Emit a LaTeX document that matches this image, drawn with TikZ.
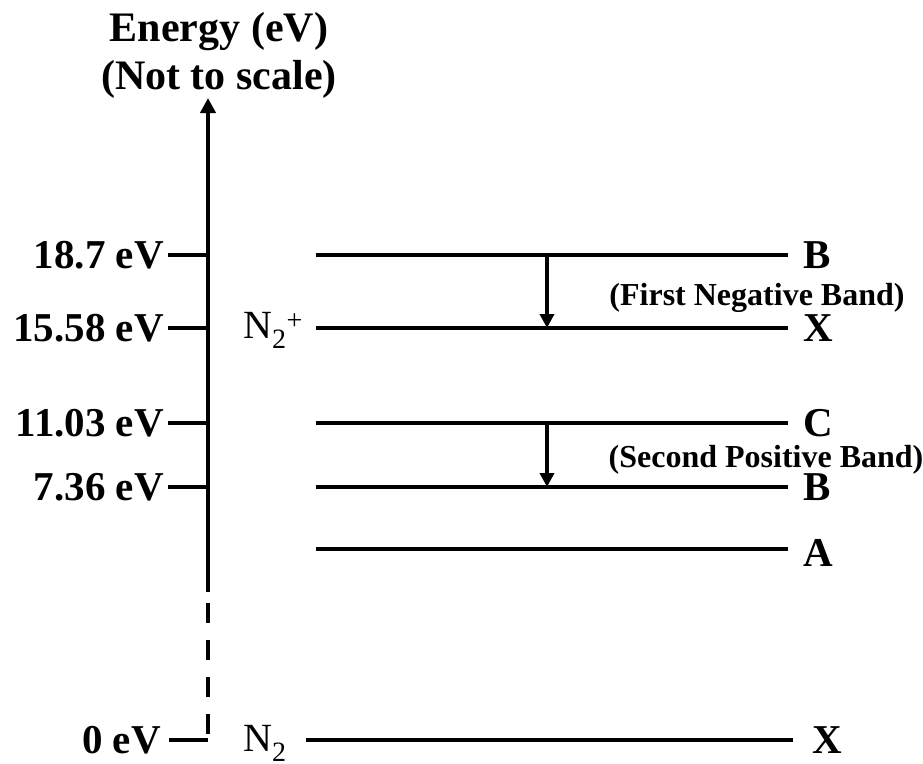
\documentclass[tikz,border=0pt]{standalone}
\usepackage{fontspec}
\setmainfont{Liberation Serif}
\usepackage{tikz}
\usetikzlibrary{arrows.meta,positioning,calc}

\begin{document}
\begin{tikzpicture}[
  x=1pt,y=-1pt,
  level/.style={line width=4.8pt},
  axisline/.style={line width=4.4pt},
  tick/.style={line width=4.8pt},
  elabel/.style={font=\fontsize{41}{46}\selectfont\bfseries,anchor=east,inner sep=0pt},
  slabel/.style={font=\fontsize{41}{46}\selectfont\bfseries,anchor=west,inner sep=0pt},
  band/.style={font=\fontsize{32}{36}\selectfont\bfseries,inner sep=0pt},
  mol/.style={font=\fontsize{40}{46}\selectfont,anchor=west,inner sep=0pt},
  trans/.style={line width=4.2pt,-{Triangle[length=14pt,width=14pt]}}
]
\useasboundingbox (0,0) rectangle (923,763);

% energy axis
\node[font=\fontsize{42}{48}\selectfont\bfseries,align=center,inner sep=0pt]
  (title) at (219,55) {Energy (eV)\\(Not to scale)};
\coordinate (axtop) at (208,98);
\coordinate (axbreak) at (208,592);
\coordinate (axzero) at (208,740);
\draw[axisline,-{Triangle[length=15pt,width=15pt]}] (axbreak) -- (axtop);
\draw[axisline,dash pattern=on 20pt off 17pt,dash phase=26pt] (axbreak) -- (axzero);

% ticks and values
\foreach \val/\ypos/\nm in {18.7 eV/255/ta,15.58 eV/328/tb,11.03 eV/423/tc,7.36 eV/487/td}{
  \coordinate (\nm) at (168,\ypos);
  \draw[tick] (\nm) -- (\nm -| axzero);
  \node[elabel] (\nm l) at (164,\ypos) {\val};
}
\coordinate (te) at (169,740);
\draw[tick] (te) -- (axzero);
\node[elabel] (tel) at (161,740) {0 eV};

% levels
\coordinate (bp1) at (316,255); \coordinate (bp2) at (788,255);
\coordinate (xp1) at (316,328); \coordinate (xp2) at (788,328);
\coordinate (c1) at (316,423);  \coordinate (c2) at (788,423);
\coordinate (b1) at (316,487);  \coordinate (b2) at (788,487);
\coordinate (a1) at (316,549);  \coordinate (a2) at (788,549);
\coordinate (x1) at (306,740);  \coordinate (x2) at (793,740);
\foreach \p in {bp,xp,c,b,a,x}{
  \draw[level] (\p1) -- (\p2);
}

\node[slabel] (Bp) at (803,255) {B};
\node[slabel] (Xp) at (803,328) {X};
\node[slabel] (C) at (803,423) {C};
\node[slabel] (B) at (803,487) {B};
\node[slabel] (A) at (803,553) {A};
\node[slabel] (X) at (812,740) {X};

\node[mol] (ion) at (243,330) {N\textsubscript{2}\textsuperscript{+}};
\node[mol] (neutral) at (243,743) {N\textsubscript{2}};

% transitions
\coordinate (fn) at (547,255);
\coordinate (sp) at (547,423);
\draw[trans] (fn) -- (fn |- xp1);
\draw[trans] (sp) -- (sp |- b1);

\node[band] (fnl) at (757,298) {(First Negative Band)};
\node[band] (spl) at (766,460) {(Second Positive Band)};
\end{tikzpicture}
\end{document}
